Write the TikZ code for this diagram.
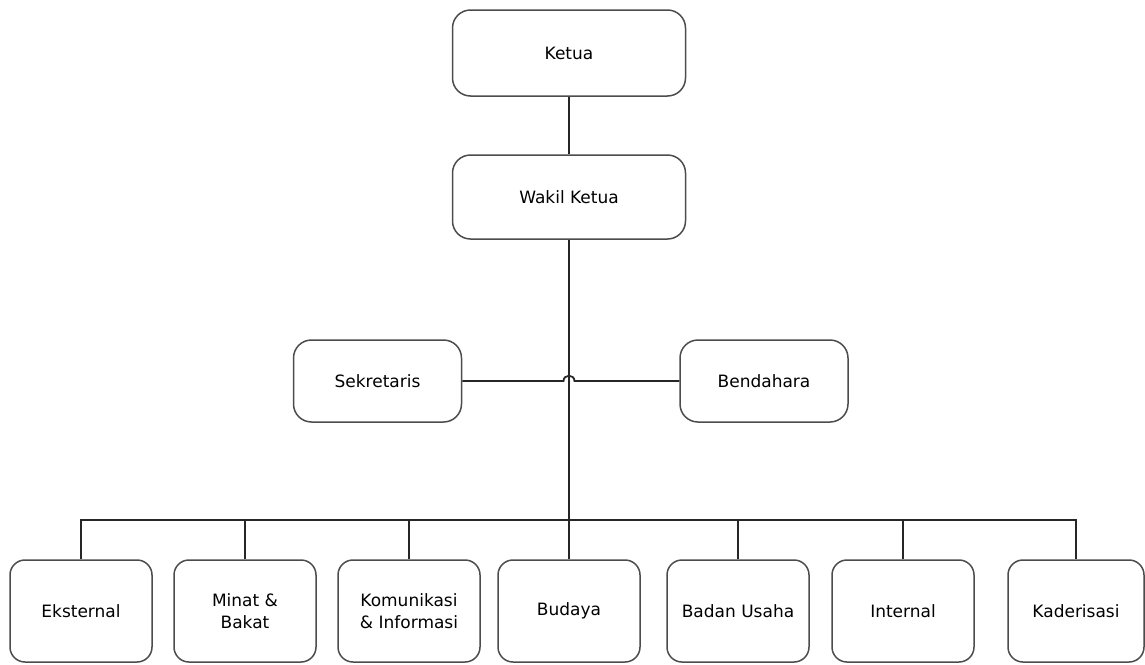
\documentclass[tikz,border=0pt]{standalone}
\usepackage{fontspec}
\setmainfont{DejaVu Sans}
\begin{document}
\begin{tikzpicture}[x=1pt,y=-1pt,
  box/.style={draw=black!70, line width=1.5pt, rounded corners=18pt, fill=white,
    align=center, inner sep=0pt, font=\fontsize{17pt}{22pt}\selectfont},
  topbox/.style={box, minimum width=233pt, minimum height=86pt},
  midbox/.style={box, minimum width=168pt, minimum height=82pt},
  botbox/.style={box, rounded corners=15pt, minimum width=142pt, minimum height=102pt},
  conn/.style={draw=black!85, line width=1.8pt}]
\useasboundingbox (0,0) rectangle (1145,664);
\node[topbox] (ketua) at (569,53) {Ketua};
\node[topbox, minimum height=84pt] (wakil) at (569,197) {Wakil Ketua};
\node[midbox] (sek) at (377.5,381) {Sekretaris};
\node[midbox] (ben) at (764,381) {Bendahara};
\node[botbox] (eks) at (81,611) {Eksternal};
\node[botbox] (min) at (245,611) {Minat \&\\Bakat};
\node[botbox] (kom) at (409,611) {Komunikasi\\\& Informasi};
\node[botbox] (bud) at (569,611) {Budaya};
\node[botbox] (bad) at (738,611) {Badan Usaha};
\node[botbox] (int) at (903,611) {Internal};
\node[botbox, minimum width=136pt] (kad) at (1076,611) {Kaderisasi};
\coordinate (bus) at (569,520);
\coordinate (hopL) at (563.5,381);
\coordinate (hopR) at (574.5,381);
\draw[conn] (ketua.south) -- (wakil.north);
\draw[conn] (wakil.south) -- (bus);
\draw[conn] (sek.east) -- (hopL) .. controls (563.5,374) and (574.5,374) .. (hopR) -- (ben.west);
\draw[conn] (eks.north) |- (bus) -| (kad.north);
\foreach \c in {min,kom,bud,bad,int}{
  \draw[conn] (\c.north) -- (\c.north |- bus);
}
\end{tikzpicture}
\end{document}
